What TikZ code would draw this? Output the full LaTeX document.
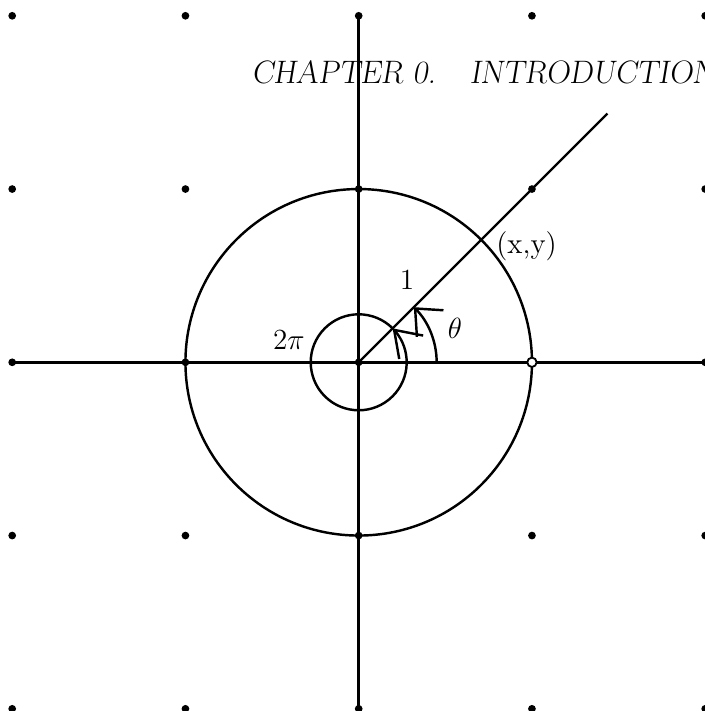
\documentclass[tikz,border=0pt]{standalone}
\usepackage{fix-cm}
\usetikzlibrary{arrows.meta,bending}
\begin{document}
\begin{tikzpicture}[x=3cm,y=3cm,
  line width=1.2pt,
  gdot/.style={circle,fill=black,inner sep=0pt,minimum size=3.8pt},
  odot/.style={circle,draw=black,fill=white,line width=0.9pt,inner sep=0pt,minimum size=4.6pt},
  lbl/.style={font=\fontsize{14.4}{17}\selectfont},
  smallbarb/.style={-{Straight Barb[length=12pt,width=16.5pt,line width=1.2pt]}},
  thetabarb/.style={-{Straight Barb[length=10.5pt,width=18.5pt,line width=1.2pt,quick]}}
]
\useasboundingbox (-2.0704,-2.0127) rectangle (1.9988,2.0912);
\coordinate (O) at (0,0);
\coordinate (L) at (-2,0);
\coordinate (R) at (2,0);
\coordinate (T) at (0,2);
\coordinate (B) at (0,-2);
\coordinate (P) at (45:2.03);
% header
\node[anchor=base west,inner sep=0pt,font=\fontsize{16}{19}\selectfont\slshape] (hdr) at (-0.625,1.612) {CHAPTER 0.\hspace{1.05em}INTRODUCTION};
% axes
\draw (L) -- (R);
\draw (T) -- (B);
% circles and ray
\draw (O) circle (1);
\draw (O) -- (P);
\draw[smallbarb] (45:0.277) arc (45:405:0.277);
\draw[thetabarb] (0.45,0) arc (0:45:0.45);
% labels
\node[lbl] (one) at (0.279,0.475) {1};
\node[lbl] (th) at (0.556,0.198) {$\theta$};
\node[lbl] (tp) at (-0.403,0.13) {$2\pi$};
\node[lbl] (xy) at (0.969,0.668) {(x,y)};
% dots
\foreach \i in {-2,...,2}{
  \foreach \j in {-2,...,2}{
    \ifnum\i=1 \ifnum\j=0 \else \node[gdot] (d\i\j) at (\i,\j) {};\fi
    \else \node[gdot] (d\i\j) at (\i,\j) {};\fi
  }
}
\node[odot] (u) at (1,0) {};
\end{tikzpicture}
\end{document}
